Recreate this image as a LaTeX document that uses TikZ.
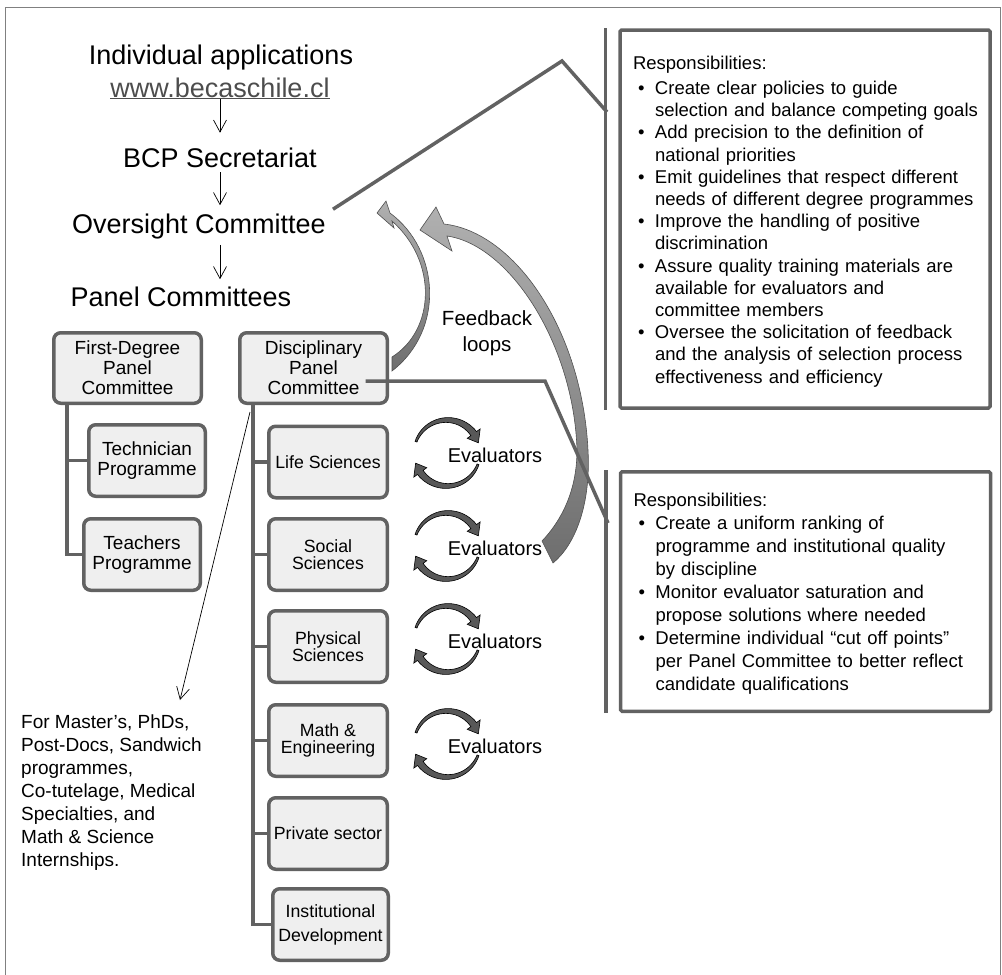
\documentclass[tikz,border=0pt]{standalone}
\usepackage{fontspec}
\setmainfont{Liberation Sans}
\usetikzlibrary{arrows.meta,positioning}

\definecolor{boxline}{HTML}{626262}
\definecolor{boxfill}{HTML}{EFEFEF}
\definecolor{urlgray}{HTML}{4D4D4D}
\definecolor{fbtop}{HTML}{B0B0B0}
\definecolor{fbbottom}{HTML}{6E6E6E}
\definecolor{fbline}{HTML}{4F4F4F}
\definecolor{evalfill}{HTML}{585858}
\definecolor{framegray}{HTML}{808080}

\newcommand{\bitem}[1]{\makebox[22pt][l]{\hspace{5pt}\textbullet}\mbox{#1}}
\newcommand{\bcont}[1]{\hspace*{22pt}\mbox{#1}}

\tikzset{
	big/.style={font=\fontsize{27}{30}\selectfont,inner sep=0pt,anchor=base},
	flowarrow/.style={-{Straight Barb[length=12pt,width=13pt]},line width=0.7pt},
	panel/.style={draw=boxline,line width=3.5pt,fill=boxfill,rounded corners=7pt,align=center,inner sep=0pt,minimum width=147.5pt,minimum height=70.5pt,font=\fontsize{19}{20}\selectfont},
	leafpanel/.style={panel,minimum width=116.5pt,minimum height=71.5pt},
	discpanel/.style={panel,minimum width=118.5pt,minimum height=71.5pt,font=\fontsize{17.7}{17}\selectfont},
	treeline/.style={draw=boxline,line width=3.5pt},
	callout/.style={draw=boxline,line width=3.5pt},
	respbox/.style={draw=boxline,line width=3.5pt,rounded corners=1.5pt,align=left,inner xsep=13pt,inner ysep=0pt,text width=344pt,font=\fontsize{18.5}{22.2}\selectfont},
	evaltext/.style={font=\fontsize{20}{24}\selectfont,inner sep=0pt},
	feedback/.style={draw=fbline,line width=0.6pt,top color=fbtop,bottom color=fbbottom},
	evalarc/.pic={
		\filldraw[draw=black,fill=evalfill,line width=0.6pt]
			plot[domain=-160:-36,samples=25] ({(34+2.5*(\x+160)/124)*cos(\x)},{(34+2.5*(\x+160)/124)*sin(\x)})
			-- (-36:41) -- (-18:33) -- (-36:25)
			-- plot[domain=-36:-160,samples=25] ({(32-2.5*(\x+160)/124)*cos(\x)},{(32-2.5*(\x+160)/124)*sin(\x)}) -- cycle;
	},
	evalloop/.pic={\pic{evalarc}; \pic[rotate=180]{evalarc};}
}

\begin{document}
\begin{tikzpicture}[x=1pt,y=-1pt]
	\useasboundingbox (0,0) rectangle (1002,975);
	\draw[framegray,line width=1pt] (5,7) rectangle (1000,990);	%frame

	%main flow
	\node[big] (apps) at (221,64) {Individual applications};
	\node[big,text=urlgray] (web) at (220,97) {\underline{www.becaschile.cl}};
	\node[big] (bcp) at (220,167) {BCP Secretariat};
	\node[big] (oversight) at (199,233) {Oversight Committee};
	\node[big] (panels) at (181,306) {Panel Committees};
	\draw[flowarrow,shorten >=14.5pt] (web.south) -- (web.south |- bcp.north);
	\draw[flowarrow,shorten <=5pt,shorten >=8pt] (bcp.south) -- (bcp.south |- oversight.north);
	\draw[flowarrow,shorten <=6pt,shorten >=7pt] (bcp.south |- oversight.south) -- (bcp.south |- panels.north);

	%panel boxes
	\node[panel] (fdeg) at (127.5,368) {First-Degree\\Panel\\Committee};
	\node[leafpanel] (tech) at (147,460.5) {Technician\\Programme};
	\node[leafpanel] (teach) at (142,554.5) {Teachers\\Programme};
	\node[panel] (disc) at (313.5,368) {Disciplinary\\Panel\\Committee};
	\node[discpanel] (life) at (328,462) {Life Sciences};
	\node[discpanel] (social) at (328,554.5) {Social\\Sciences};
	\node[discpanel] (phys) at (328,646.5) {Physical\\Sciences};
	\node[discpanel] (math) at (328,740.5) {Math \&\\Engineering};
	\node[discpanel] (private) at (328,833.5) {Private sector};
	\node[discpanel,minimum width=115.5pt,font=\fontsize{17.7}{24}\selectfont] (inst) at (330.5,924.5) {Institutional\\Development};

	%tree lines
	\draw[treeline] ([xshift=15pt]fdeg.south west) |- (tech.west);
	\draw[treeline] ([xshift=15pt]fdeg.south west) |- (teach.west);
	\foreach \leaf in {life,social,phys,math,private,inst}
		\draw[treeline] ([xshift=15pt]disc.south west) |- (\leaf.west);

	%evaluators
	\foreach \row/\yy in {1/455,2/548,3/641,4/746}{
		\pic at (447,\yy-2) {evalloop};
		\node[evaltext] (ev\row) at (495,\yy) {Evaluators};
	}

	%feedback loops
	\shadedraw[feedback] (390,213) .. controls (440,250) and (445,330) .. (392,371)
		-- (392,357) .. controls (435,330) and (438,262) .. (392,221)
		-- (394,228) -- (377,213) -- (386,201) -- cycle;
	\shadedraw[feedback] (444,224) .. controls (515,232) and (582,330) .. (588,450)
		.. controls (591,505) and (575,545) .. (553,563)
		-- (542,541) .. controls (562,520) and (577,490) .. (577,450)
		.. controls (574,345) and (510,245) .. (447,236)
		-- (452,251) -- (420,230) -- (436,207) -- cycle;
	\node[font=\fontsize{20.5}{26}\selectfont,align=center,inner sep=0pt] (fb) at (487,333) {Feedback\\loops};

	%responsibilities
	\node[respbox,minimum height=378pt] (resp1) at (805,219) {\rule{0pt}{18.5pt}Responsibilities:\\[2.8pt]
		\bitem{Create clear policies to guide}\\
		\bcont{selection and balance competing goals}\\
		\bitem{Add precision to the definition of}\\
		\bcont{national priorities}\\
		\bitem{Emit guidelines that respect different}\\
		\bcont{needs of different degree programmes}\\
		\bitem{Improve the handling of positive}\\
		\bcont{discrimination}\\
		\bitem{Assure quality training materials are}\\
		\bcont{available for evaluators and}\\
		\bcont{committee members}\\
		\bitem{Oversee the solicitation of feedback}\\
		\bcont{and the analysis of selection process}\\
		\bcont{effectiveness and efficiency}};
	\node[respbox,minimum height=239.5pt,minimum width=369.5pt,font=\fontsize{18.5}{23}\selectfont] (resp2) at (805.5,591.5) {\rule{0pt}{17.5pt}Responsibilities:\\
		\bitem{Create a uniform ranking of}\\
		\bcont{programme and institutional quality}\\
		\bcont{by discipline}\\
		\bitem{Monitor evaluator saturation and}\\
		\bcont{propose solutions where needed}\\
		\bitem{Determine individual “cut off points”}\\
		\bcont{per Panel Committee to better reflect}\\
		\bcont{candidate qualifications}};

	%callouts
	\coordinate (peak1) at (562,61);
	\coordinate (hook1) at (607,112);
	\coordinate (elbow2) at (545,381);
	\coordinate (hook2) at (608,523);
	\draw[callout] ([shift={(7,-4)}]oversight.north east) -- (peak1) -- (hook1);
	\draw[callout] ([shift={(52,13)}]disc.center) -- (elbow2) -- (hook2);
	\draw[callout] ([xshift=-13pt]resp1.north west) -- ([xshift=-13pt]resp1.south west);
	\draw[callout] ([xshift=-13pt]resp2.north west) -- ([xshift=-13pt]resp2.south west);

	%degree note
	\node[font=\fontsize{19}{23}\selectfont,align=left,inner sep=0pt,anchor=north west] (masters) at (21,715) {For Master’s, PhDs,\\Post-Docs, Sandwich\\programmes,\\Co-tutelage, Medical\\Specialties, and\\Math \& Science\\Internships.};
	\coordinate (mastertip) at (180,700);
	\draw[flowarrow] ([shift={(12,7)}]disc.south west) -- (mastertip);
\end{tikzpicture}
\end{document}
